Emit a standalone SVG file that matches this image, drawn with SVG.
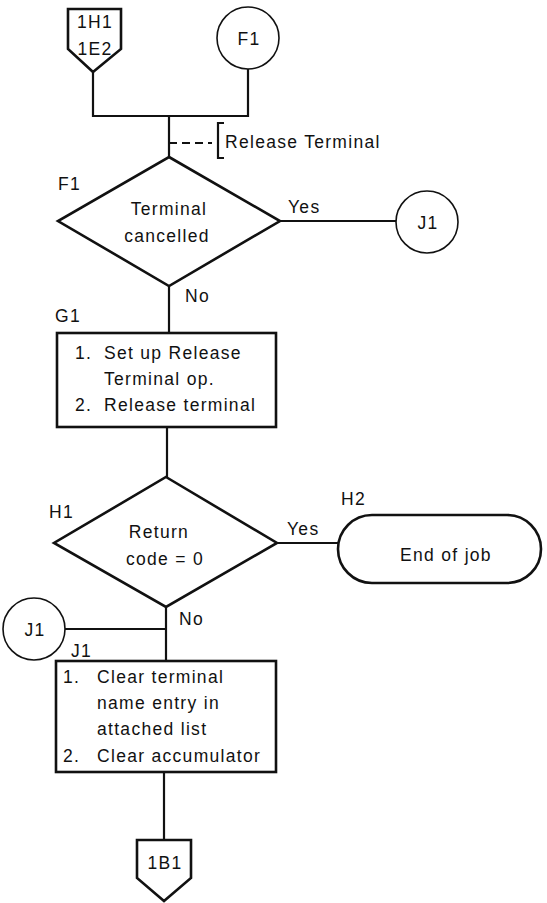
<svg xmlns="http://www.w3.org/2000/svg" width="547" height="903" viewBox="0 0 547 903">
<style>
text{font-family:"Liberation Sans",Arial,sans-serif;font-size:17.5px;letter-spacing:1.3px;fill:#111}
.c{text-anchor:middle}
.shape{fill:#fff;stroke:#111;stroke-width:2.6;stroke-linejoin:miter}
.circ{fill:#fff;stroke:#111;stroke-width:1.6}
.ln{fill:none;stroke:#111;stroke-width:2.2}
.dash{fill:none;stroke:#111;stroke-width:1.8;stroke-dasharray:8,5}
</style>
<rect width="547" height="903" fill="#fff"/>
<g id="connectors">
<path class="ln" d="M93,72 V116 H248 V69"/>
<path class="ln" d="M169,116 V157"/>
<path class="dash" d="M169,143 H212"/>
<path class="ln" d="M224,123 H218 V158 H224"/>
<path class="ln" d="M280,221 H396"/>
<path class="ln" d="M169,286 V333"/>
<path class="ln" d="M167,427 V477"/>
<path class="ln" d="M277,543 H338"/>
<path class="ln" d="M166,607 V661"/>
<path class="ln" d="M65,629 H166"/>
<path class="ln" d="M164,772 V840"/>
<text x="225" y="148">Release Terminal</text>
<text x="288" y="213">Yes</text>
<text x="185" y="302">No</text>
<text x="287" y="535">Yes</text>
<text x="179" y="625">No</text>
</g>
<g id="offpage_1H1_1E2">
<path class="shape" d="M68,9 H121 V49 L93,72 L68,49 Z"/>
<text class="c" x="95" y="28">1H1</text>
<text class="c" x="95" y="55">1E2</text>
</g>
<g id="connector_F1_in">
<circle class="circ" cx="248" cy="38" r="31"/>
<text class="c" x="249" y="45">F1</text>
</g>
<g id="decision_F1">
<text x="58" y="190">F1</text>
<path class="shape" d="M169,157 L280,221 L169,286 L58,221 Z"/>
<text class="c" x="169" y="215">Terminal</text>
<text class="c" x="167" y="242">cancelled</text>
</g>
<g id="connector_J1_out">
<circle class="circ" cx="427" cy="222" r="31"/>
<text class="c" x="428" y="229">J1</text>
</g>
<g id="process_G1">
<text x="55" y="322">G1</text>
<rect class="shape" x="57" y="333" width="219" height="94"/>
<text x="75" y="359">1.</text>
<text x="104" y="359">Set up Release</text>
<text x="104" y="385">Terminal op.</text>
<text x="75" y="411">2.</text>
<text x="104" y="411">Release terminal</text>
</g>
<g id="decision_H1">
<text x="49" y="518">H1</text>
<path class="shape" d="M166,477 L277,543 L166,607 L54,543 Z"/>
<text class="c" x="159" y="538">Return</text>
<text class="c" x="165" y="565">code = 0</text>
</g>
<g id="terminal_H2">
<text x="341" y="505">H2</text>
<rect class="shape" x="338" y="515" width="203" height="68" rx="34" ry="34"/>
<text class="c" x="446" y="561">End of job</text>
</g>
<g id="connector_J1_in">
<circle class="circ" cx="34" cy="629" r="31"/>
<text class="c" x="35" y="636">J1</text>
</g>
<g id="process_J1">
<text x="71" y="657">J1</text>
<rect class="shape" x="56" y="661" width="220" height="111"/>
<text x="63" y="683">1.</text>
<text x="97" y="683">Clear terminal</text>
<text x="97" y="709">name entry in</text>
<text x="97" y="735">attached list</text>
<text x="63" y="762">2.</text>
<text x="97" y="762">Clear accumulator</text>
</g>
<g id="offpage_1B1">
<path class="shape" d="M137,840 H191 V878 L164,901 L137,878 Z"/>
<text class="c" x="165" y="869">1B1</text>
</g>
</svg>
